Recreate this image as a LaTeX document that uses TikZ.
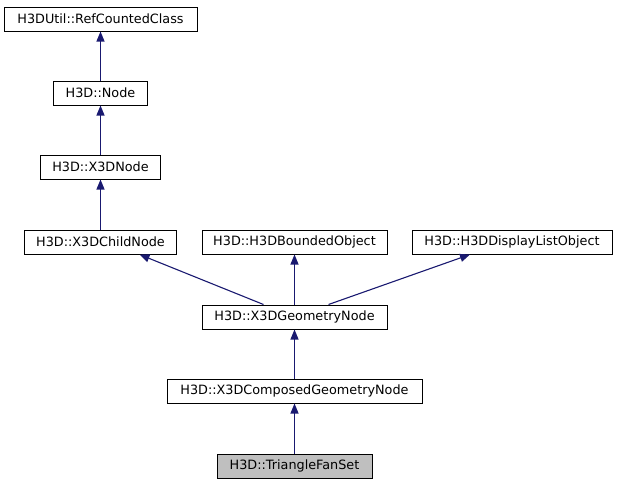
\documentclass[tikz,border=0pt]{standalone}
\usepackage{fontspec}
\setmainfont{DejaVu Sans}
\usetikzlibrary{positioning, arrows.meta}
\definecolor{navy}{RGB}{25,25,112}
\definecolor{leafgray}{RGB}{191,191,191}

\begin{document}
\begin{tikzpicture}[x=1pt, y=-1pt,
		every edge/.style = {draw=navy, line width=1.1pt,
			{Triangle[length=10pt, width=8pt]}-},
		cls/.style = {draw=black, line width=1pt, fill=white,
			minimum width=#1pt, minimum height=24pt, inner sep=0pt,
			font=\fontsize{12.8}{14}\selectfont}
                    ]
		\useasboundingbox (0,0) rectangle (617,485);

		\node(ref)     [cls=193] at (100.5, 19)  {H3DUtil::RefCountedClass};
		\node(node)    [cls=94]  at (100.5, 93)  {H3D::Node};
		\node(x3d)     [cls=120] at (100.5, 167) {H3D::X3DNode};
		\node(child)   [cls=152] at (100.5, 242) {H3D::X3DChildNode};
		\node(bounded) [cls=185] at (294.5, 242) {H3D::H3DBoundedObject};
		\node(display) [cls=200] at (512, 242)   {H3D::H3DDisplayListObject};
		\node(geom)    [cls=185] at (294.5, 317) {H3D::X3DGeometryNode};
		\node(comp)    [cls=255] at (294.5, 391) {H3D::X3DComposedGeometryNode};
		\node(fan)     [cls=155, fill=leafgray] at (294.5, 466) {H3D::TriangleFanSet};

		\path   (ref) edge (node)
		        (node) edge (x3d)
		        (x3d) edge (child)
		        ([xshift=39pt]child.south) edge ([xshift=-31pt]geom.north)
		        (bounded) edge (geom)
		        ([xshift=-42pt]display.south) edge ([xshift=34pt]geom.north)
		        (geom) edge (comp)
		        (comp) edge (fan);
	\end{tikzpicture}
\end{document}
